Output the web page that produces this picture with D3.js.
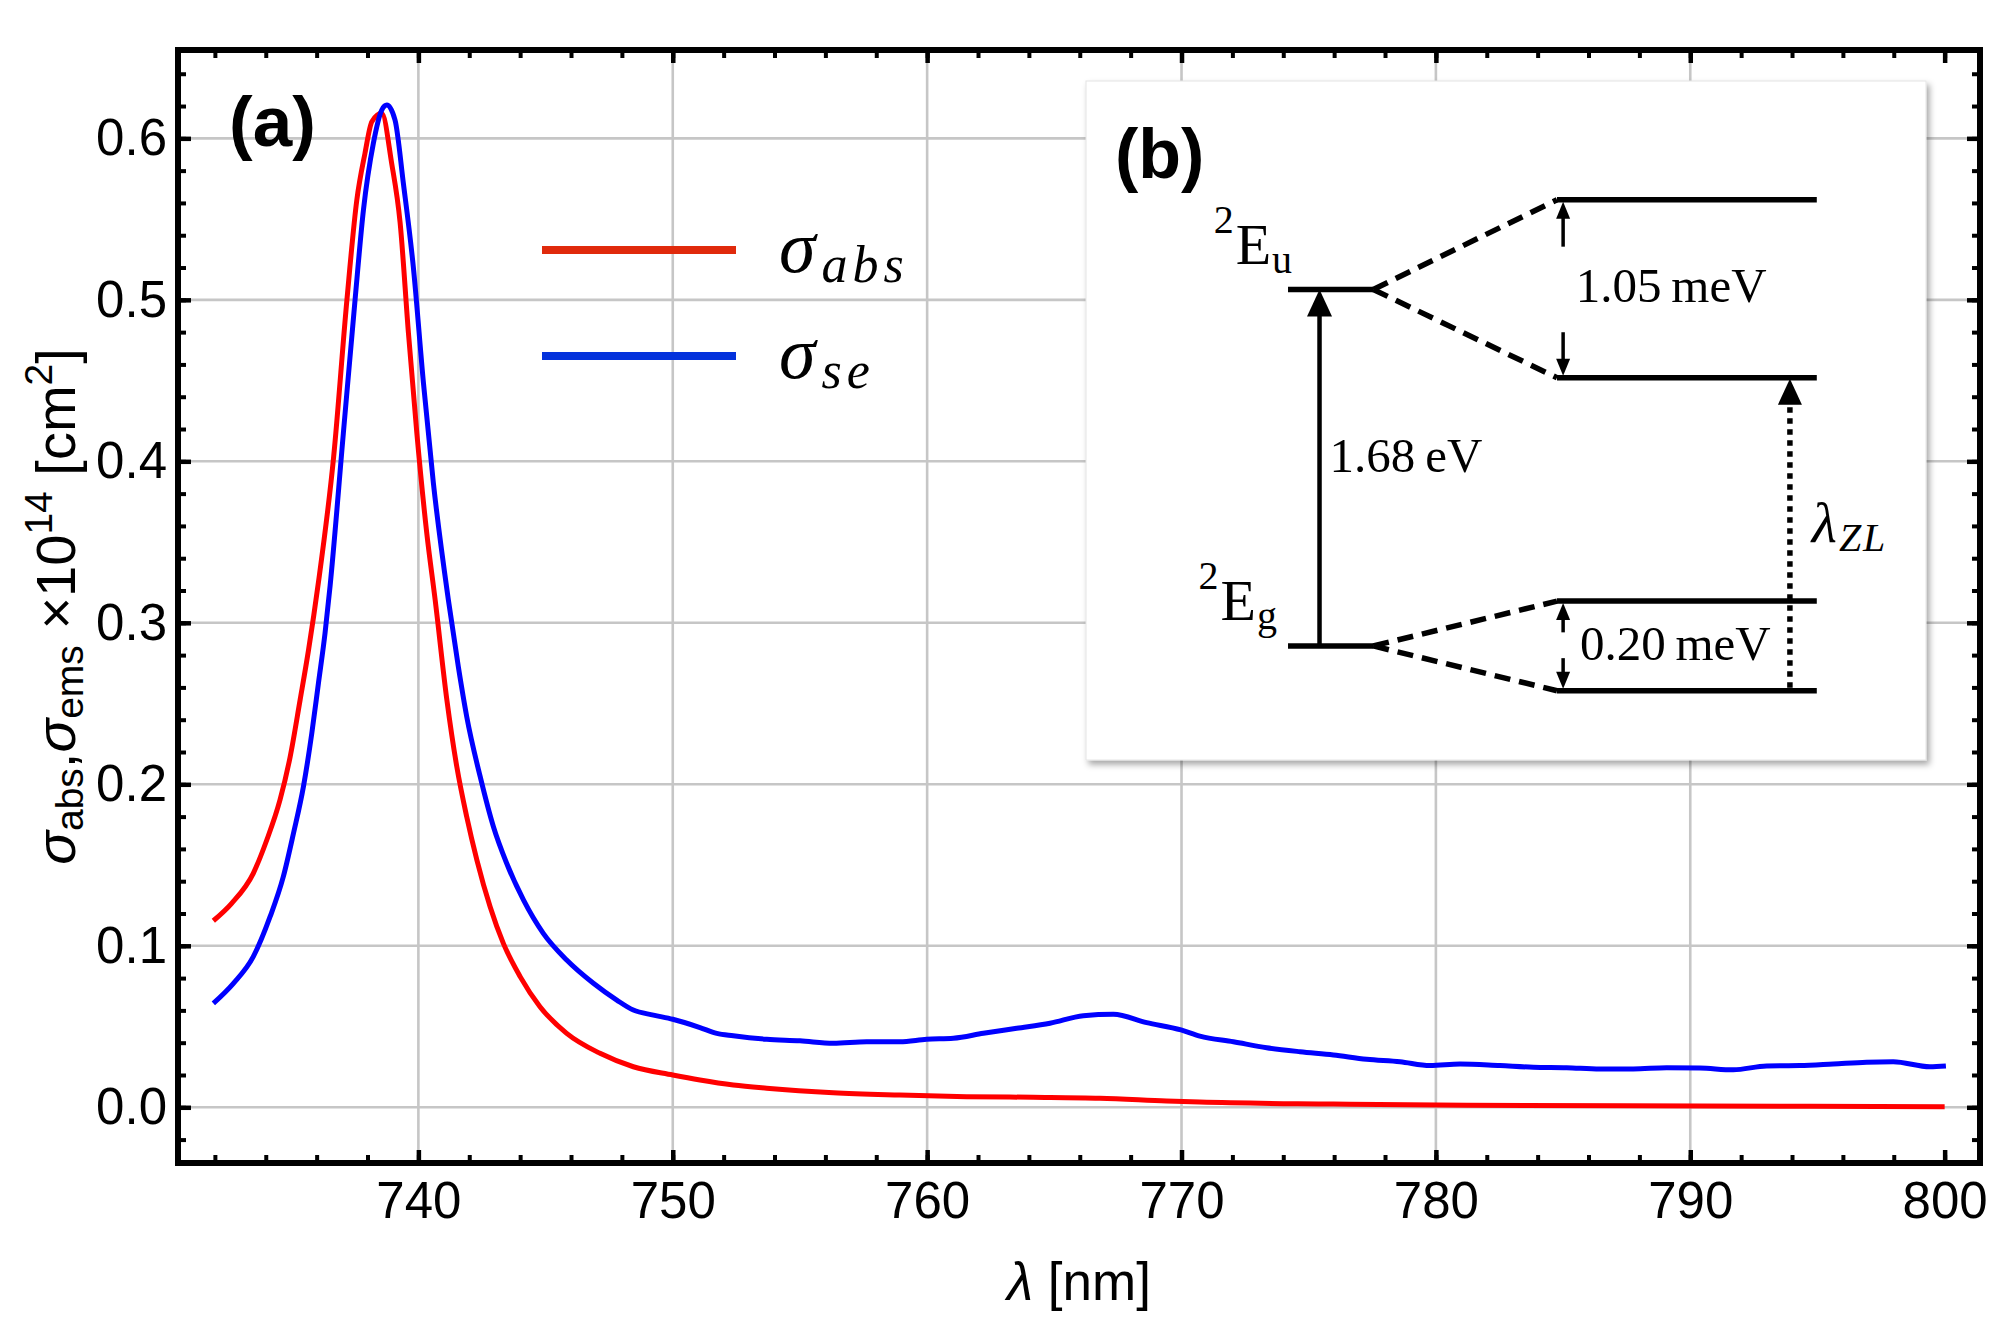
<!DOCTYPE html>
<html><head><meta charset="utf-8">
<script src="https://cdn.jsdelivr.net/npm/d3@7"></script>
<style>html,body{margin:0;padding:0;background:#fff;} svg{display:block;}</style>
</head><body>
<script>
// ---------- data ----------
const lambdaAbs = [731.94,732.66,733.51,734.04,734.56,734.96,735.35,735.68,736.07,736.67,737.19,737.58,737.90,738.17,738.56,738.95,739.28,739.61,739.94,740.33,740.66,741.12,741.51,741.90,742.30,742.82,743.34,744.00,744.78,745.83,747.14,748.45,750.00,751.07,752.38,753.69,756.31,758.93,761.55,764.17,766.79,769.41,770.72,775.97,781.20,790.38,800.00];
const sigmaAbs  = [0.1155,0.1263,0.1449,0.1655,0.1903,0.2171,0.2522,0.2830,0.3250,0.4030,0.4999,0.5618,0.5907,0.6103,0.6155,0.5845,0.5480,0.4792,0.4173,0.3554,0.3141,0.2522,0.2109,0.1799,0.1531,0.1242,0.1015,0.0809,0.0623,0.0458,0.0334,0.0251,0.0200,0.0169,0.0138,0.0118,0.0090,0.0076,0.0066,0.0062,0.0056,0.0039,0.0032,0.0020,0.0012,0.0008,0.0004];
const lambdaSe = [731.94,732.73,733.51,734.17,734.69,735.09,735.48,735.81,736.07,736.33,736.53,737.05,737.51,737.84,738.23,738.56,738.76,739.08,739.41,739.80,740.20,740.59,741.18,741.57,741.90,742.43,742.95,743.47,744.13,744.91,745.83,746.88,747.80,748.45,749.24,750.00,751.07,751.73,752.38,753.69,755.00,756.31,757.62,758.93,759.98,761.03,762.21,763.52,764.83,766.14,767.32,768.63,769.98,770.72,772.04,773.35,774.66,775.97,777.28,778.59,779.77,780.95,782.52,783.83,785.14,786.45,787.76,789.07,790.38,791.69,793.00,794.31,795.62,796.93,797.98,799.42,800.05];
const sigmaSe  = [0.0644,0.0768,0.0933,0.1180,0.1428,0.1697,0.1985,0.2316,0.2625,0.2935,0.3230,0.4173,0.4999,0.5556,0.5969,0.6175,0.6206,0.6114,0.5721,0.5205,0.4483,0.3864,0.3141,0.2728,0.2419,0.2047,0.1737,0.1511,0.1284,0.1077,0.0912,0.0768,0.0664,0.0602,0.0571,0.0545,0.0494,0.0458,0.0443,0.0421,0.0412,0.0396,0.0406,0.0406,0.0421,0.0427,0.0458,0.0489,0.0520,0.0567,0.0576,0.0524,0.0479,0.0441,0.0406,0.0369,0.0344,0.0324,0.0297,0.0282,0.0258,0.0268,0.0258,0.0248,0.0245,0.0237,0.0237,0.0245,0.0243,0.0232,0.0256,0.0258,0.0268,0.0279,0.0282,0.0251,0.0256];
const xTickValues = [740,750,760,770,780,790,800];
const xGridValues = [740,750,760,770,780,790];
const yTickValues = [0,0.1,0.2,0.3,0.4,0.5,0.6];
const xMinorValues = d3.range(732, 801, 2);
const yMinorValues = d3.range(-0.02, 0.65, 0.02);
const legendSubs = ["abs","se"];
const seriesColors = ["#ff0000","#0000ff"];
const legendColors = ["#e02a0c","#0432dc"];
// inset diagram (arbitrary inset units 0..100)
const leftLevels  = [{sub:"u", e:30.7, sx:15.2, sy:27.0}, {sub:"g", e:83.2, sx:13.4, sy:79.4}];
const rightLevels = [17.5, 43.7, 76.6, 89.8];
const splitPairs  = [[0,0],[0,1],[1,2],[1,3]]; // left level index -> right level index
const gapLabels   = [{text:"1.05\u2009meV", top:17.5, bot:43.7, tx:58.3, ty:32.6, tailTop:24.4, tailBot:37.0},
                     {text:"0.20\u2009meV", top:76.6, bot:89.8, tx:58.8, ty:85.3, tailTop:81.2, tailBot:85.0}];

// ---------- layout ----------
const W = 2009, H = 1327;
const sans = "'Liberation Sans', Arial, Helvetica, sans-serif";
const serif = "'Liberation Serif', 'Times New Roman', serif";
const svg = d3.select("body").append("svg").attr("width", W).attr("height", H)
  .style("font-family", sans);
const x = d3.scaleLinear().domain([730.55, 801.39]).range([178, 1980]);
const y = d3.scaleLinear().domain([-0.0345, 0.6547]).range([1163, 50]);
const [x0, x1] = x.range(), [y0, y1] = y.range();

const defs = svg.append("defs");
defs.append("clipPath").attr("id","plotclip").append("rect")
  .attr("x", x0).attr("y", y1).attr("width", x1 - x0).attr("height", y0 - y1);
const f = defs.append("filter").attr("id","shadow").attr("x","-5%").attr("y","-5%").attr("width","115%").attr("height","115%");
f.append("feDropShadow").attr("dx",3).attr("dy",4).attr("stdDeviation",3).attr("flood-color","#000").attr("flood-opacity",0.35);

// gridlines
const grid = svg.append("g").attr("stroke","#c6c6c6").attr("stroke-width",2.6);
grid.selectAll("line.vx").data(xGridValues).join("line")
  .attr("x1", d => x(d)).attr("x2", d => x(d)).attr("y1", y1).attr("y2", y0);
grid.selectAll("line.hy").data(yTickValues).join("line")
  .attr("y1", d => y(d)).attr("y2", d => y(d)).attr("x1", x0).attr("x2", x1);

// curves
const line = d3.line().x(d => x(d[0])).y(d => y(d[1])).curve(d3.curveMonotoneX);
const series = [d3.zip(lambdaAbs, sigmaAbs), d3.zip(lambdaSe, sigmaSe)];
svg.append("g").attr("clip-path","url(#plotclip)").selectAll("path").data(series).join("path")
  .attr("d", line).attr("fill","none").attr("stroke", (d,i) => seriesColors[i])
  .attr("stroke-width", 5).attr("stroke-linejoin","round");

// axes (ticks inside on all four sides)
function styleAxis(g, w) {
  g.select(".domain").remove();
  g.selectAll(".tick line").attr("stroke","#000").attr("stroke-width", w);
  g.selectAll(".tick text").attr("fill","#000").style("font-size","51px").style("font-family", sans);
}
const MAJ = 13, MIN = 8;
svg.append("g").attr("transform",`translate(0,${y0})`)
  .call(d3.axisBottom(x).tickValues(xMinorValues).tickSize(-MIN).tickFormat("")).call(g => styleAxis(g,4));
svg.append("g").attr("transform",`translate(0,${y0})`)
  .call(d3.axisBottom(x).tickValues(xTickValues).tickSize(-MAJ).tickPadding(19).tickFormat(d3.format("d"))).call(g => styleAxis(g,4.5));
svg.append("g").attr("transform",`translate(0,${y1})`)
  .call(d3.axisTop(x).tickValues(xMinorValues).tickSize(-MIN).tickFormat("")).call(g => styleAxis(g,4));
svg.append("g").attr("transform",`translate(0,${y1})`)
  .call(d3.axisTop(x).tickValues(xTickValues).tickSize(-MAJ).tickFormat("")).call(g => styleAxis(g,4.5));
svg.append("g").attr("transform",`translate(${x0},0)`)
  .call(d3.axisLeft(y).tickValues(yMinorValues).tickSize(-MIN).tickFormat("")).call(g => styleAxis(g,4));
svg.append("g").attr("transform",`translate(${x0},0)`)
  .call(d3.axisLeft(y).tickValues(yTickValues).tickSize(-MAJ).tickPadding(11).tickFormat(d3.format(".1f"))).call(g => styleAxis(g,4.5));
svg.append("g").attr("transform",`translate(${x1},0)`)
  .call(d3.axisRight(y).tickValues(yMinorValues).tickSize(-MIN).tickFormat("")).call(g => styleAxis(g,4));
svg.append("g").attr("transform",`translate(${x1},0)`)
  .call(d3.axisRight(y).tickValues(yTickValues).tickSize(-MAJ).tickFormat("")).call(g => styleAxis(g,4.5));

// frame
svg.append("rect").attr("x", x0).attr("y", y1).attr("width", x1 - x0).attr("height", y0 - y1)
  .attr("fill","none").attr("stroke","#000").attr("stroke-width",6);

// axis titles
const xt = svg.append("text").attr("x", (x0 + x1) / 2).attr("y", 1300).attr("text-anchor","middle")
  .style("font-size","53px").attr("fill","#000");
xt.append("tspan").attr("font-style","italic").text("λ");
xt.append("tspan").text(" [nm]");

const yt = svg.append("text").attr("transform",`translate(75,${(y0 + y1) / 2}) rotate(-90)`)
  .attr("text-anchor","middle").style("font-size","56px").attr("fill","#000");
yt.append("tspan").attr("font-style","italic").text("σ");
yt.append("tspan").attr("font-size","39px").attr("dy",8).text("abs");
yt.append("tspan").attr("dy",-8).text(",");
yt.append("tspan").attr("font-style","italic").text("σ");
yt.append("tspan").attr("font-size","39px").attr("dy",8).text("ems");
yt.append("tspan").attr("dy",-8).text(" ×10");
yt.append("tspan").attr("font-size","39px").attr("dy",-23).text("14");
yt.append("tspan").attr("dy",23).text(" [cm");
yt.append("tspan").attr("font-size","39px").attr("dy",-23).text("2");
yt.append("tspan").attr("dy",23).text("]");

// panel label (a)
svg.append("text").attr("x", 229).attr("y", 146).style("font-size","71px").attr("font-weight","bold").text("(a)");

// legend
const ly = d3.scaleLinear().domain([0,1]).range([250, 356]);
const leg = svg.append("g");
leg.selectAll("line").data(legendSubs).join("line")
  .attr("x1", 542).attr("x2", 736).attr("y1", (d,i) => ly(i)).attr("y2", (d,i) => ly(i))
  .attr("stroke", (d,i) => legendColors[i]).attr("stroke-width", 8);
leg.selectAll("text").data(legendSubs).join("text")
  .attr("x", 779).attr("y", (d,i) => ly(i) + 22)
  .style("font-family", serif).attr("font-style","italic").style("font-size","74px")
  .each(function(d) {
    const t = d3.select(this);
    t.append("tspan").text("σ");
    t.append("tspan").attr("dx", 6).attr("dy", 10).style("font-size","52px").attr("letter-spacing", 5).text(d);
  });

// ---------- inset (b) ----------
const ix = d3.scaleLinear().domain([0,100]).range([1086, 1926]);
const iy = d3.scaleLinear().domain([0,100]).range([81, 760]);
const inset = svg.append("g");
inset.append("rect").attr("x", ix(0)).attr("y", iy(0)).attr("width", ix(100) - ix(0)).attr("height", iy(100) - iy(0))
  .attr("fill","#fff").attr("stroke","#e4e4e4").attr("stroke-width",1).attr("filter","url(#shadow)");
inset.append("text").attr("x", ix(3.45)).attr("y", iy(14.3)).style("font-size","70px").attr("font-weight","bold").text("(b)");

function arrowHead(g, xt, yt, dir, w, h) {
  // dir = -1 pointing up, +1 pointing down
  g.append("path").attr("d", `M${xt},${yt} L${xt - w/2},${yt - dir*h} L${xt + w/2},${yt - dir*h} Z`).attr("fill","#000");
}

// levels
inset.selectAll("line.ll").data(leftLevels).join("line")
  .attr("x1", ix(24.05)).attr("x2", ix(34.2)).attr("y1", d => iy(d.e)).attr("y2", d => iy(d.e))
  .attr("stroke","#000").attr("stroke-width",5.5);
inset.selectAll("line.rl").data(rightLevels).join("line")
  .attr("x1", ix(56.07)).attr("x2", ix(87.0)).attr("y1", d => iy(d)).attr("y2", d => iy(d))
  .attr("stroke","#000").attr("stroke-width",5.5);
// dashed splitting lines
inset.selectAll("line.sp").data(splitPairs).join("line")
  .attr("x1", ix(34.2)).attr("y1", d => iy(leftLevels[d[0]].e))
  .attr("x2", ix(56.07)).attr("y2", d => iy(rightLevels[d[1]]))
  .attr("stroke","#000").attr("stroke-width",5.5).attr("stroke-dasharray","16 9");

// main transition arrow
inset.append("line").attr("x1", ix(27.8)).attr("x2", ix(27.8)).attr("y1", iy(leftLevels[1].e)).attr("y2", iy(leftLevels[0].e) + 20)
  .attr("stroke","#000").attr("stroke-width",4.5);
arrowHead(inset, ix(27.8), iy(leftLevels[0].e), -1, 25, 27);
inset.append("text").attr("x", ix(29.0)).attr("y", iy(57.6)).style("font-family", serif).style("font-size","49px").text("1.68\u2009eV");

// level labels
leftLevels.forEach(d => {
  const t = inset.append("text").attr("x", ix(d.sx)).attr("y", iy(d.sy)).style("font-family", serif).style("font-size","58px");
  t.append("tspan").style("font-size","40px").attr("dy",-31).text("2");
  t.append("tspan").attr("dy",31).attr("dx",2).text("E");
  t.append("tspan").style("font-size","40px").attr("dy",9).attr("dx",1).text(d.sub);
});

// gap arrows and labels
gapLabels.forEach(d => {
  const xa = ix(56.8);
  inset.append("line").attr("x1", xa).attr("x2", xa).attr("y1", iy(d.tailTop)).attr("y2", iy(d.top) + 12).attr("stroke","#000").attr("stroke-width",3.5);
  arrowHead(inset, xa, iy(d.top) + 2, -1, 14, 17);
  inset.append("line").attr("x1", xa).attr("x2", xa).attr("y1", iy(d.tailBot)).attr("y2", iy(d.bot) - 12).attr("stroke","#000").attr("stroke-width",3.5);
  arrowHead(inset, xa, iy(d.bot) - 2, 1, 14, 17);
  inset.append("text").attr("x", ix(d.tx)).attr("y", iy(d.ty)).style("font-family", serif).style("font-size","49px").text(d.text);
});

// zero-line dotted arrow
inset.append("line").attr("x1", ix(83.8)).attr("x2", ix(83.8)).attr("y1", iy(rightLevels[3]) - 3).attr("y2", iy(rightLevels[1]) + 22)
  .attr("stroke","#000").attr("stroke-width",5.5).attr("stroke-dasharray","5.5 5.5");
arrowHead(inset, ix(83.8), iy(rightLevels[1]) + 1, -1, 24, 26);
const lz = inset.append("text").attr("x", ix(86.4)).attr("y", iy(67.9)).style("font-family", serif).attr("font-style","italic").style("font-size","58px");
lz.append("tspan").text("λ");
lz.append("tspan").style("font-size","40px").attr("dy",9).attr("dx",2).attr("letter-spacing",2).text("ZL");
</script>
</body></html>
